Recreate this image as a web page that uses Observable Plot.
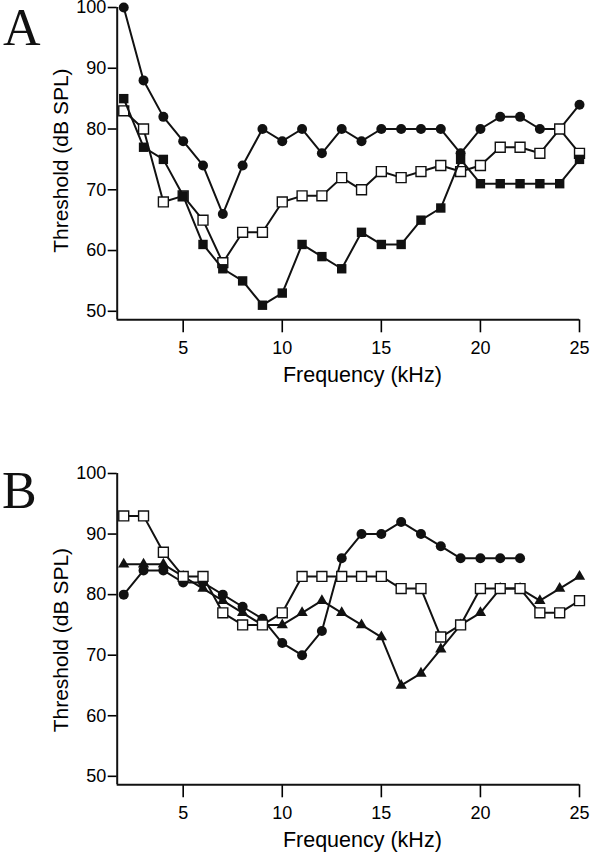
<!DOCTYPE html>
<html>
<head>
<meta charset="utf-8">
<script src="https://cdn.jsdelivr.net/npm/d3@7"></script>
<script src="https://cdn.jsdelivr.net/npm/@observablehq/plot@0.6"></script>
<style>
  html, body { margin: 0; padding: 0; background: #fff; }
  #wrap { position: relative; width: 590px; height: 852px; overflow: hidden; }
  .panel { position: absolute; left: 0; }
  .letter { position: absolute; font-family: "Liberation Serif", "Times New Roman", serif; font-size: 52px; line-height: 52px; color: #111; }
</style>
</head>
<body>
<div id="wrap">
  <div class="letter" style="left:3px; top:1.5px;">A</div>
  <div class="letter" style="left:2px; top:464.5px;">B</div>
  <div id="pa" class="panel" style="top:0px;"></div>
  <div id="pb" class="panel" style="top:430px;"></div>
</div>
<script>
// ---- Data ----
const xTicks = [5, 10, 15, 20, 25];
const yTicks = [50, 60, 70, 80, 90, 100];

// Panel A
const freqA = [2,3,4,5,6,7,8,9,10,11,12,13,14,15,16,17,18,19,20,21,22,23,24,25];
const aCircle = [100,88,82,78,74,66,74,80,78,80,76,80,78,80,80,80,80,76,80,82,82,80,80,84];
const aOpenSq = [83,80,68,69,65,58,63,63,68,69,69,72,70,73,72,73,74,73,74,77,77,76,80,76];
const aFilledSq = [85,77,75,69,61,57,55,51,53,61,59,57,63,61,61,65,67,75,71,71,71,71,71,75];

// Panel B
const freqBCircle = [2,3,4,5,6,7,8,9,10,11,12,13,14,15,16,17,18,19,20,21,22];
const bCircle = [80,84,84,82,82,80,78,76,72,70,74,86,90,90,92,90,88,86,86,86,86];
const freqB = [2,3,4,5,6,7,8,9,10,11,12,13,14,15,16,17,18,19,20,21,22,23,24,25];
const bOpenSq = [93,93,87,83,83,77,75,75,77,83,83,83,83,83,81,81,73,75,81,81,81,77,77,79];
const bTriangle = [85,85,85,83,81,79,77,75,75,77,79,77,75,73,65,67,71,75,77,81,81,79,81,83];

const INK = "#111";
const styles = {
  circle:   {symbol: "circle",   r: 5,   fill: INK, stroke: "none"},
  filledSq: {symbol: "square",   r: 5.3, fill: INK, stroke: "none"},
  openSq:   {symbol: "square",   r: 5.6, fill: "#fff", stroke: INK, strokeWidth: 1.4},
  triangle: {symbol: "triangle", r: 4.2, fill: INK, stroke: "none"}
};

function seriesMarks(xs, ys, kind) {
  const data = xs.map((x, i) => ({x, y: ys[i]}));
  return [
    Plot.line(data, {x: "x", y: "y", stroke: INK, strokeWidth: 2}),
    Plot.dot(data, {x: "x", y: "y", ...styles[kind]})
  ];
}

function panel({height, marginTop, marginBottom, series, yLabelDy}) {
  const x0 = 1.67, x1 = 25, y0 = 48.6, y1 = 100;
  return Plot.plot({
    width: 590,
    height,
    marginLeft: 116.7,
    marginRight: 11,
    marginTop,
    marginBottom,
    style: {fontFamily: "'Liberation Sans', Arial, sans-serif", color: "black", background: "transparent", overflow: "visible"},
    x: {domain: [x0, x1]},
    y: {domain: [y0, y1]},
    marks: [
      Plot.axisY(yTicks, {tickSize: 9, tickPadding: 2, fontSize: 18, label: null, strokeWidth: 1.6}),
      Plot.axisX(xTicks, {tickSize: 13, tickPadding: 8, fontSize: 18, label: null, strokeWidth: 1.6}),
      Plot.ruleX([x0], {y1: y0, y2: y1, stroke: INK, strokeWidth: 2}),
      Plot.ruleY([y0], {x1: x0, x2: x1, stroke: INK, strokeWidth: 2}),
      Plot.text(["Frequency (kHz)"], {frameAnchor: "bottom", textAnchor: "middle", lineAnchor: "middle", dx: 14, dy: 55, fontSize: 21.5, fill: "black"}),
      Plot.text(["Threshold (dB SPL)"], {frameAnchor: "left", textAnchor: "middle", lineAnchor: "middle", rotate: -90, dx: -55.5, dy: yLabelDy, fontSize: 21, fill: "black"}),
      ...series.flatMap(s => seriesMarks(s.x, s.y, s.kind))
    ]
  });
}

document.getElementById("pa").append(panel({
  height: 390, marginTop: 7, marginBottom: 70.7, yLabelDy: -3,
  series: [
    {x: freqA, y: aCircle, kind: "circle"},
    {x: freqA, y: aOpenSq, kind: "openSq"},
    {x: freqA, y: aFilledSq, kind: "filledSq"}
  ]
}));

document.getElementById("pb").append(panel({
  height: 422, marginTop: 43, marginBottom: 67.7, yLabelDy: 11,
  series: [
    {x: freqB, y: bTriangle, kind: "triangle"},
    {x: freqBCircle, y: bCircle, kind: "circle"},
    {x: freqB, y: bOpenSq, kind: "openSq"}
  ]
}));
</script>
</body>
</html>
